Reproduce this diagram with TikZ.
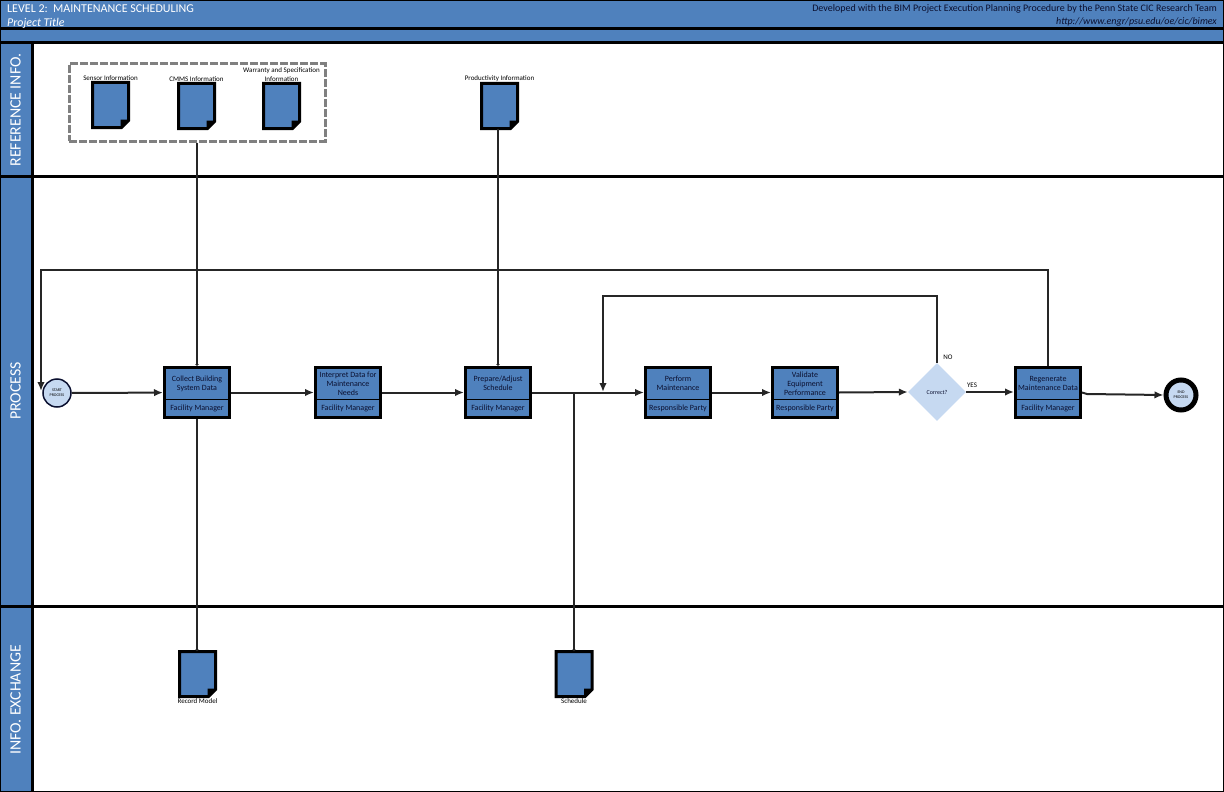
\documentclass[tikz,border=0pt]{standalone}
\usepackage{fontspec}
\setmainfont{Carlito}
\usetikzlibrary{arrows.meta,positioning,shapes.geometric}
\definecolor{bimblue}{HTML}{4F81BD}
\definecolor{bimpale}{HTML}{C6D9F1}
\definecolor{bimline}{HTML}{262626}
\definecolor{biminky}{HTML}{0B1030}
\tikzset{
    flow/.style={draw=bimline,line width=2pt,-{Latex[length=9pt,width=7.5pt]}},
    link/.style={draw=bimline,line width=2pt,-{Latex[length=2pt,width=4pt]}},
    lanerule/.style={draw=black,line width=3pt},
    lanetitle/.style={rotate=90,text=white,font=\fontsize{15.8}{16}\selectfont,inner sep=0pt},
    procbox/.style={draw=black,fill=bimblue,line width=3pt,minimum width=65pt,minimum height=50pt,inner sep=0pt},
    proctext/.style={text=biminky,align=center,inner sep=0pt,font=\fontsize{8}{9}\selectfont},
    docbox/.style={minimum width=36pt,minimum height=45pt,inner sep=0pt,outer sep=0pt},
    doclabel/.style={align=center,inner sep=0pt,font=\fontsize{7}{9}\selectfont},
    groupbox/.style={draw=gray,dash pattern=on 8pt off 2pt,line width=3pt,minimum width=256pt,minimum height=77pt,inner sep=0pt},
    smalltext/.style={inner sep=0pt,align=center,font=\fontsize{4}{5}\selectfont},
}
\newcommand{\docshape}[1]{%
    \draw[line width=3pt,fill=bimblue,line join=miter] (#1.north west) -- (#1.north east)
        -- ([yshift=7pt]#1.south east) -- ([xshift=-7pt]#1.south east) -- (#1.south west) -- cycle;
    \fill[black] ([xshift=-8pt]#1.south east) -- ([xshift=-8pt,yshift=8pt]#1.south east) -- ([yshift=8pt]#1.south east) -- cycle;
}
\begin{document}
\begin{tikzpicture}[x=1pt,y=-1pt]
    \useasboundingbox (0,0) rectangle (1224,792);

    % Header and lane title bands
    \fill[bimblue] (0,0) rectangle (1224,43);
    \fill[bimblue] (0,43) rectangle (32,792);
    \draw[black,line width=1pt] (0.5,0.5) rectangle (1223.5,791.5);

    % Lane rules
    \draw[lanerule] (0,29) -- (1224,29);
    \draw[lanerule] (0,43) -- (1224,43);
    \draw[lanerule] (0,176) -- (1224,176);
    \draw[lanerule] (0,606.5) -- (1224,606.5);
    \draw[lanerule] (32.5,43) -- (32.5,792);

    % Header text
    \node[anchor=west,text=white,inner sep=0pt,font=\fontsize{12}{12}\selectfont] (leveltitle) at (7,9) {LEVEL 2:\ \ MAINTENANCE SCHEDULING};
    \node[anchor=west,text=white,inner sep=0pt,font=\fontsize{11.9}{12}\selectfont\itshape] (projecttitle) at (7,23) {Project Title};
    \node[anchor=east,text=biminky,inner sep=0pt,font=\fontsize{10}{12}\selectfont] (devnote) at (1217,9) {Developed with the BIM Project Execution Planning Procedure by the Penn State CIC Research Team};
    \node[anchor=east,text=biminky,inner sep=0pt,font=\fontsize{10}{12}\selectfont\itshape] (devlink) at (1217,22) {http://www.engr/psu.edu/oe/cic/bimex};

    % Lane titles
    \node[lanetitle] (laneref) at (15.5,110) {REFERENCE INFO.};
    \node[lanetitle] (laneproc) at (15.5,391) {PROCESS};
    \node[lanetitle] (laneinfo) at (15.5,700) {INFO. EXCHANGE};

    % Reference documents
    \node[groupbox] (refgroup) at (197,102.5) {};
    \foreach \name/\x/\y/\txt in {sensor/110.5/105/{Sensor Information},
                                  cmms/196.5/106/{CMMS Information},
                                  warranty/281.5/106/{Warranty and Specification\\Information},
                                  prodinfo/499.5/106/{Productivity Information}} {
        \node[docbox] (\name) at (\x,\y) {};
        \docshape{\name}
        \node[doclabel,above=1.5pt of \name] (\name-label) {\txt};
    }

    % Exchange documents
    \foreach \name/\x/\txt in {record/197.5/{Record Model},schedule/574/{Schedule}} {
        \node[docbox] (\name) at (\x,674) {};
        \docshape{\name}
        \node[doclabel,below=1.5pt of \name] (\name-label) {\txt};
    }

    % Process boxes
    \foreach \name/\x/\txt/\who in {collect/197/{Collect Building\\System Data}/{Facility Manager},
                                    interpret/348/{Interpret Data for\\Maintenance\\Needs}/{Facility Manager},
                                    prepare/498/{Prepare/Adjust\\Schedule}/{Facility Manager},
                                    perform/678/{Perform\\Maintenance}/{Responsible Party},
                                    validate/805/{Validate\\Equipment\\Performance}/{Responsible Party},
                                    regen/1048/{Regenerate\\Maintenance Data}/{Facility Manager}} {
        \node[procbox] (\name) at (\x,392.5) {};
        \draw[black,line width=0.8pt] ([yshift=-6.5pt]\name.west) -- ([yshift=-6.5pt]\name.east);
        \node[proctext] (\name-title) at ([yshift=9pt]\name.center) {\txt};
        \node[proctext] (\name-party) at ([yshift=-16pt]\name.center) {\who};
    }

    % Start, decision, end
    \node[circle,draw=biminky,fill=bimpale,line width=1.5pt,minimum size=28pt,inner sep=0pt,smalltext] (start) at (57,393) {START\\PROCESS};
    \node[diamond,fill=bimpale,minimum width=58pt,minimum height=58pt,inner sep=0pt,font=\fontsize{6}{7}\selectfont,text=biminky] (correct) at (937,392) {Correct?};
    \node[circle,draw=black,fill=bimpale,line width=5pt,minimum size=30pt,inner sep=0pt,smalltext] (finish) at (1181,395) {END\\PROCESS};
    \node[inner sep=0pt,font=\fontsize{7}{8}\selectfont] (nolabel) at (948,357) {NO};
    \node[inner sep=0pt,font=\fontsize{7}{8}\selectfont] (yeslabel) at (972,385) {YES};

    % Free ends of the connectors
    \coordinate (loopend) at (41,391);
    \coordinate (loopleft) at (41,270);
    \coordinate (retryend) at (603,392);
    \coordinate (retryleft) at (603,296);
    \coordinate (branch) at (574,392.5);

    % Main flow
    \draw[flow] (start) -- (collect);
    \draw[flow] (collect) -- (interpret);
    \draw[flow] (interpret) -- (prepare);
    \draw[flow] (prepare) -- (perform);
    \draw[flow] (perform) -- (validate);
    \draw[flow] (validate.east) -- (correct.west);
    \draw[flow] (correct.east) -- (correct.east -| regen.west);
    \draw[flow] (regen.east) -- ++(5,1.5) -- (finish.west);

    % Loops back
    \draw[flow] (regen.north) |- (loopleft) -- (loopend);
    \draw[flow] (correct.north) |- (retryleft) -- (retryend);

    % Document links
    \draw[link] (refgroup.south) -- (collect.north);
    \draw[link] (prodinfo.south -| prepare.north) -- (prepare.north);
    \draw[link] (collect.south) -- (collect.south |- record.north);
    \draw[link] (branch) -- (schedule.north);
\end{tikzpicture}
\end{document}
